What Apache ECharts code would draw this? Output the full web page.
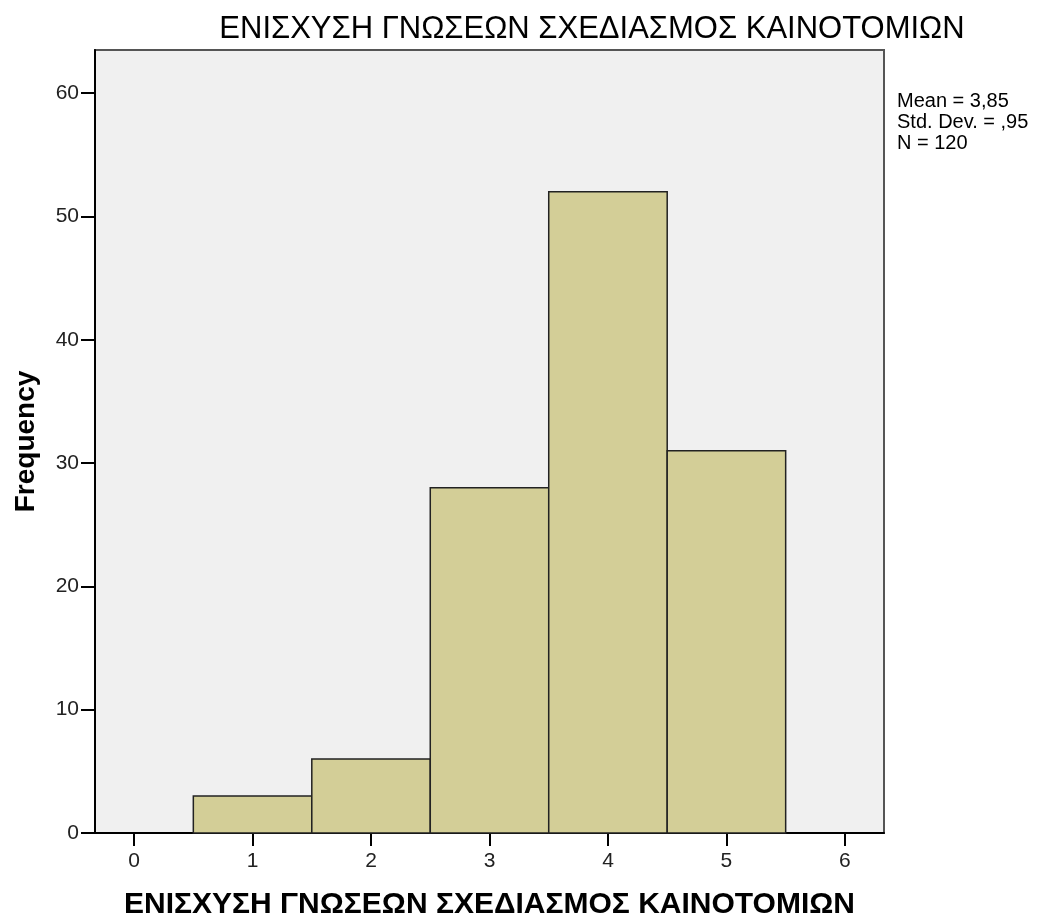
<!DOCTYPE html>
<html>
<head>
<meta charset="utf-8">
<title>Histogram</title>
<script src="https://cdn.jsdelivr.net/npm/echarts@6/dist/echarts.min.js"></script>
<style>
    html, body { margin: 0; padding: 0; background: #fff; }
    #main { width: 1038px; height: 918px; }
</style>
</head>
<body>
<div id="main"></div>
<script>
// bin centres and counts (bin width 1)
var binCenters = [1, 2, 3, 4, 5];
var binCounts = [3, 6, 28, 52, 31];
var binWidth = 1;
var xTicks = [0, 1, 2, 3, 4, 5, 6];
var yTicks = [0, 10, 20, 30, 40, 50, 60];
var statsLines = ['Mean = 3,85', 'Std. Dev. = ,95', 'N = 120'];
var titleText = 'ΕΝΙΣΧΥΣΗ ΓΝΩΣΕΩΝ ΣΧΕΔΙΑΣΜΟΣ ΚΑΙΝΟΤΟΜΙΩΝ';

var chart = echarts.init(document.getElementById('main'));

var barData = binCenters.map(function (c, i) {
    return [c - binWidth / 2, c + binWidth / 2, binCounts[i]];
});

chart.setOption({
    animation: false,
    title: {
        text: titleText,
        left: 587,
        top: 9,
        textAlign: 'center',
        textStyle: {
            fontFamily: '"Liberation Sans", Arial, sans-serif',
            fontWeight: 'normal',
            fontSize: 31,
            color: '#000'
        }
    },
    grid: {
        left: 95,
        right: 154,
        top: 50,
        bottom: 85,
        outerBoundsMode: 'none',
        show: true,
        backgroundColor: '#f0f0f0',
        borderColor: '#555',
        borderWidth: 2
    },
    graphic: [{
        type: 'text',
        left: 897,
        top: 91,
        style: {
            text: statsLines.join('\n'),
            font: '20px "Liberation Sans", Arial, sans-serif',
            lineHeight: 21,
            fill: '#000'
        }
    }],
    xAxis: {
        type: 'value',
        min: -0.33,
        max: 6.33,
        name: titleText,
        nameLocation: 'middle',
        nameGap: 57,
        nameTextStyle: {
            fontFamily: '"Liberation Sans", Arial, sans-serif',
            fontWeight: 'bold',
            fontSize: 30,
            color: '#000'
        },
        splitLine: { show: false },
        axisLine: { onZero: false, lineStyle: { color: '#000', width: 2 } },
        axisTick: { show: true, length: 13, customValues: xTicks, lineStyle: { color: '#000', width: 2 } },
        axisLabel: {
            customValues: xTicks,
            margin: 18,
            fontSize: 21,
            color: '#222',
            fontFamily: '"Liberation Sans", Arial, sans-serif'
        }
    },
    yAxis: {
        type: 'value',
        min: 0,
        max: 63.5,
        name: 'Frequency',
        nameLocation: 'middle',
        nameGap: 55,
        nameTextStyle: {
            fontFamily: '"Liberation Sans", Arial, sans-serif',
            fontWeight: 'bold',
            fontSize: 28,
            color: '#000'
        },
        splitLine: { show: false },
        axisLine: { show: true, onZero: false, lineStyle: { color: '#000', width: 2 } },
        axisTick: { show: true, length: 14, customValues: yTicks, lineStyle: { color: '#000', width: 2 } },
        axisLabel: {
            customValues: yTicks,
            margin: 16,
            fontSize: 21,
            color: '#222',
            fontFamily: '"Liberation Sans", Arial, sans-serif'
        }
    },
    series: [{
        type: 'custom',
        data: barData,
        renderItem: function (params, api) {
            var p0 = api.coord([api.value(0), 0]);
            var p1 = api.coord([api.value(1), api.value(2)]);
            return {
                type: 'rect',
                shape: {
                    x: p0[0],
                    y: p1[1],
                    width: p1[0] - p0[0],
                    height: p0[1] - p1[1]
                },
                style: {
                    fill: '#d3ce97',
                    stroke: '#222',
                    lineWidth: 1.5
                }
            };
        }
    }]
});
</script>
</body>
</html>
